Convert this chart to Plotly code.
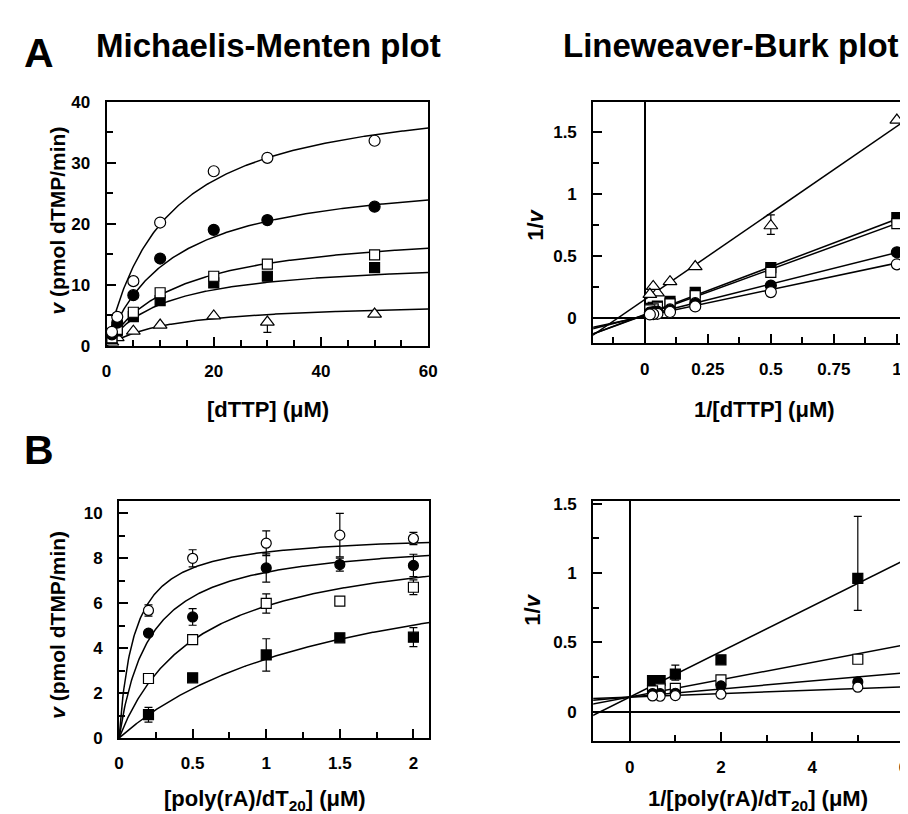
import plotly.graph_objects as go
import numpy as np

W, H = 908, 814
FONT = "Liberation Sans, Arial, Helvetica, sans-serif"

# ---------------- Panel A data (dTTP) ----------------
dttp_uM = [1, 2, 5, 10, 20, 30, 50]
a_open_circle = [2.3, 4.75, 10.6, 20.2, 28.6, 30.8, 33.6]
a_filled_circle = [1.88, 3.8, 8.3, 14.3, 19.0, 20.6, 22.8]
a_open_square = [1.31, 2.7, 5.5, 8.7, 11.4, 13.4, 14.9]
a_filled_square = [1.23, 2.45, 4.8, 7.4, 10.3, 11.4, 12.8]
a_triangle = [0.625, 1.34, 2.4, 3.4, 4.9, 3.9, 5.2]
# MM error bars (plus, minus)
a_err_plus = {"fc": [0, 0, 0, 0, 0, 0.6, 0], "tri": [0, 0, 0, 0, 0, 0, 0]}
a_err_minus = {"fc": [0, 0, 0, 0, 0, 0.6, 0], "tri": [0, 0, 0, 0, 0, 1.7, 0]}
# LB error bars for triangles
a_lb_tri_err_plus = [0, 0.088, 0, 0, 0, 0, 0]
a_lb_tri_err_minus = [0, 0.07, 0, 0, 0, 0, 0]
# Michaelis-Menten fit parameters (Vmax, Km)
a_vmax = {"oc": 42.4, "fc": 28.8, "os": 19.6, "fs": 14.2, "tri": 7.3}
a_km = {"oc": 11.3, "fc": 12.3, "os": 13.6, "fs": 10.9, "tri": 12.7}
# Lineweaver-Burk fit lines (slope, intercept)
a_lb_slope = {"oc": 0.43, "fc": 0.51, "os": 0.74, "fs": 0.77, "tri": 1.40}
a_lb_icpt = {"oc": 0.015, "fc": 0.02, "os": 0.025, "fs": 0.03, "tri": 0.15}

# ---------------- Panel B data (poly(rA)/dT20) ----------------
poly_uM = [0.2, 0.5, 1, 1.5, 2]
b_open_circle = [5.68, 8.0, 8.67, 9.03, 8.88]
b_open_circle_err = [0.25, 0.38, 0.55, 0.97, 0.27]
b_filled_circle = [4.67, 5.39, 7.57, 7.72, 7.68]
b_filled_circle_err = [0.12, 0.37, 0.63, 0.29, 0.5]
b_open_square = [2.65, 4.38, 5.99, 6.09, 6.71]
b_open_square_err = [0.1, 0.1, 0.43, 0.0, 0.33]
b_filled_square = [1.04, 2.68, 3.7, 4.46, 4.49]
b_filled_square_err = [0.33, 0.1, 0.72, 0.1, 0.42]
b_vmax = {"oc": 9.13, "fc": 8.93, "os": 9.05, "fs": 8.8}
b_km = {"oc": 0.103, "fc": 0.21, "os": 0.54, "fs": 1.5}
b_lb_slope = {"oc": 0.0122, "fc": 0.029, "os": 0.0623, "fs": 0.164}
b_lb_icpt = {"oc": 0.105, "fc": 0.105, "os": 0.105, "fs": 0.105}

STY = {
    "oc": dict(symbol="circle", color="white"),
    "fc": dict(symbol="circle", color="black"),
    "os": dict(symbol="square", color="white"),
    "fs": dict(symbol="square", color="black"),
    "tri": dict(symbol="triangle-up", color="white"),
}
SIZE_A = {"oc": 11, "fc": 11, "os": 10, "fs": 10, "tri": 12}
SIZE_B = {"oc": 10, "fc": 10, "os": 10, "fs": 10}

fig = go.Figure()

def px_x(p):
    return p / W

def px_y(p):
    return 1 - p / H

def add_line(x, y, xa, ya):
    fig.add_trace(go.Scatter(x=x, y=y, mode="lines", xaxis=xa, yaxis=ya,
                             line=dict(color="black", width=1.5),
                             showlegend=False, hoverinfo="skip"))

def add_pts(x, y, key, size, xa, ya, ep=None, em=None):
    kw = {}
    if ep is not None:
        kw["error_y"] = dict(type="data", symmetric=False, array=ep, arrayminus=em,
                             color="black", thickness=1.2, width=4)
    fig.add_trace(go.Scatter(x=x, y=y, mode="markers", xaxis=xa, yaxis=ya,
                             marker=dict(symbol=STY[key]["symbol"], color=STY[key]["color"],
                                         size=size, line=dict(color="black", width=1.2)),
                             showlegend=False, **kw))

# ---- A: Michaelis-Menten ----
a_data = {"oc": a_open_circle, "fc": a_filled_circle, "os": a_open_square,
          "fs": a_filled_square, "tri": a_triangle}
order_a = ["tri", "fs", "os", "fc", "oc"]
s_grid = np.linspace(0, 60, 300)
for k in order_a:
    add_line(s_grid, a_vmax[k] * s_grid / (a_km[k] + s_grid), "x", "y")
for k in order_a:
    ep = a_err_plus.get(k)
    em = a_err_minus.get(k)
    add_pts(dttp_uM, a_data[k], k, SIZE_A[k], "x", "y", ep, em)

# ---- A: Lineweaver-Burk ----
inv_s = [1 / s for s in dttp_uM]
lb_x = np.array([-0.21, 1.05])
for k in order_a:
    add_line(lb_x, a_lb_slope[k] * lb_x + a_lb_icpt[k], "x2", "y2")
for k in order_a:
    inv_v = [1 / v for v in a_data[k]]
    if k == "tri":
        add_pts(inv_s, inv_v, k, SIZE_A[k], "x2", "y2", a_lb_tri_err_plus, a_lb_tri_err_minus)
    else:
        add_pts(inv_s, inv_v, k, SIZE_A[k], "x2", "y2")

# ---- B: Michaelis-Menten ----
b_data = {"oc": b_open_circle, "fc": b_filled_circle, "os": b_open_square, "fs": b_filled_square}
b_err = {"oc": b_open_circle_err, "fc": b_filled_circle_err, "os": b_open_square_err,
         "fs": b_filled_square_err}
order_b = ["fs", "os", "fc", "oc"]
p_grid = np.linspace(0, 2.11, 400)
for k in order_b:
    add_line(p_grid, b_vmax[k] * p_grid / (b_km[k] + p_grid), "x3", "y3")
for k in order_b:
    add_pts(poly_uM, b_data[k], k, SIZE_B[k], "x3", "y3", b_err[k], b_err[k])

# ---- B: Lineweaver-Burk ----
inv_p = [1 / p for p in poly_uM]
lb_xb = np.array([-0.85, 6.1])
for k in order_b:
    add_line(lb_xb, b_lb_slope[k] * lb_xb + b_lb_icpt[k], "x4", "y4")
for k in order_b:
    v = b_data[k]
    e = b_err[k]
    inv_v = [1 / vi for vi in v]
    ep = [1 / (vi - ei) - 1 / vi for vi, ei in zip(v, e)]
    em = [1 / vi - 1 / (vi + ei) for vi, ei in zip(v, e)]
    add_pts(inv_p, inv_v, k, SIZE_B[k], "x4", "y4", ep, em)

TICKF = dict(family=FONT, size=17, color="black", weight="bold")

def ax(domain, rng, dtick, mdtick, mirror=True, zeroline=False, standoff=6):
    return dict(domain=domain, range=rng, dtick=dtick, tick0=0, ticks="inside",
                ticklen=9, tickwidth=1.5, tickcolor="black",
                minor=dict(dtick=mdtick, tick0=0, ticks="inside", ticklen=6,
                           tickwidth=1.5, tickcolor="black", showgrid=False),
                showline=True, linewidth=2, linecolor="black", mirror=mirror,
                showgrid=False, zeroline=zeroline, zerolinecolor="black",
                zerolinewidth=2, tickfont=TICKF, ticklabelstandoff=standoff,
                ticklabeloverflow="allow", fixedrange=True)

XS, YS = 9, 11
layout = dict(
    width=W, height=H, margin=dict(l=0, r=0, t=0, b=0),
    paper_bgcolor="white", plot_bgcolor="white", showlegend=False,
    xaxis=dict(ax([px_x(95), px_x(421.7)], [0, 60], 20, 5, standoff=XS), anchor="y"),
    yaxis=dict(ax([px_y(336.7), px_y(86.7)], [0, 40], 10, 5, standoff=YS), anchor="x"),
    xaxis2=dict(ax([px_x(589.3), 1.0], [-0.2047, 1.0402], 0.25, 0.125, zeroline=True, standoff=XS), anchor="y2"),
    yaxis2=dict(ax([px_y(334.3), px_y(87.3)], [-0.205, 1.744], 0.5, 0.25, mirror=False, zeroline=True, standoff=YS), anchor="x2"),
    xaxis3=dict(ax([px_x(107.7), px_x(422.7)], [0, 2.107], 0.5, 0.25, standoff=XS), anchor="y3"),
    yaxis3=dict(ax([px_y(738.3), px_y(496)], [0, 10.53], 2, 1, standoff=YS), anchor="x3"),
    xaxis4=dict(ax([px_x(589.3), px_x(906.7)], [-0.8, 6.05], 2, 1, zeroline=True, standoff=XS), anchor="y4"),
    yaxis4=dict(ax([px_y(741.7), px_y(496)], [-0.215, 1.516], 0.5, 0.25, zeroline=True, standoff=YS), anchor="x4"),
)
fig.update_layout(**layout)

def ann(text, x, y, size, xanchor="center", angle=0):
    fig.add_annotation(text=text, x=px_x(x), y=px_y(y), xref="paper", yref="paper",
                       xanchor=xanchor, yanchor="middle", showarrow=False, textangle=angle,
                       font=dict(family=FONT, size=size, color="black", weight="bold"))

ann("A", 26, 37, 41)
ann("B", 26, 443, 41)
ann("Michaelis-Menten plot", 82, 29, 33, xanchor="left")
ann("Lineweaver-Burk plot", 557, 29, 33, xanchor="left")
ann("[dTTP] (μM)", 259, 402, 22)
ann("1/[dTTP] (μM)", 763, 402, 22)
ann("[poly(rA)/dT<sub>20</sub>] (μM)", 256, 802, 22)
ann("1/[poly(rA)/dT<sub>20</sub>] (μM)", 757, 802, 22)
ann("<i>v</i> (pmol dTMP/min)", 45, 208, 21, angle=-90)
ann("<i>v</i> (pmol dTMP/min)", 45, 622, 21, angle=-90)
ann("1/<i>v</i>", 530, 213, 22, angle=-90)
ann("1/<i>v</i>", 528, 607, 22, angle=-90)

fig.write_html("out.html")
